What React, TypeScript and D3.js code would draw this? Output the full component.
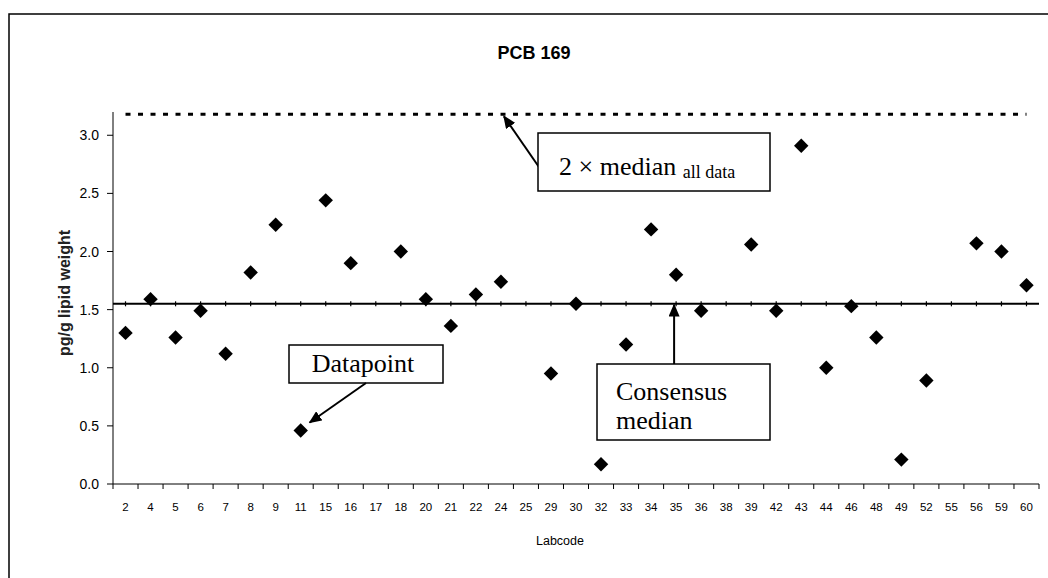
import * as d3 from "d3";

// Lab codes along the x axis (category axis, one slot per lab)
const labcodes = [
  "2", "4", "5", "6", "7", "8", "9", "11", "15", "16", "17", "18", "20", "21",
  "22", "24", "25", "29", "30", "32", "33", "34", "35", "36", "38", "39", "42",
  "43", "44", "46", "48", "49", "52", "55", "56", "59", "60",
];

// Reported PCB 169 values (pg/g lipid weight); null = no value reported
const values: (number | null)[] = [
  1.30, 1.59, 1.26, 1.49, 1.12, 1.82, 2.23, 0.46, 2.44, 1.90, null, 2.00, 1.59, 1.36,
  1.63, 1.74, null, 0.95, 1.55, 0.17, 1.20, 2.19, 1.80, 1.49, null, 2.06, 1.49,
  2.91, 1.00, 1.53, 1.26, 0.21, 0.89, null, 2.07, 2.00, 1.71,
];

const consensusMedian = 1.55;
const twiceMedianAll = 3.18;
const yTicks = [0, 0.5, 1, 1.5, 2, 2.5, 3];

const W = 1048;
const H = 578;
const plot = { left: 113, right: 1039, top: 112, bottom: 484 };

const sans = "'Liberation Sans', Arial, sans-serif";
const serif = "'Liberation Serif', 'Times New Roman', serif";

export default function App() {
  const x = d3
    .scaleBand<string>()
    .domain(labcodes)
    .range([plot.left, plot.right])
    .paddingInner(0)
    .paddingOuter(0);
  const cx = (c: string) => (x(c) ?? 0) + x.bandwidth() / 2;

  const y = d3.scaleLinear().domain([0, 3.2]).range([plot.bottom, plot.top]);

  const diamond = d3.symbol().type(d3.symbolSquare).size(104)();

  const points = labcodes
    .map((c, i) => ({ c, v: values[i] }))
    .filter((d) => d.v !== null) as { c: string; v: number }[];

  const firstX = cx(labcodes[0]);
  const lastX = cx(labcodes[labcodes.length - 1]);

  // annotation anchors (tips derived from the scales)
  const tipLimit = { x: cx("24") + 3, y: y(twiceMedianAll) + 2 };
  const tipPoint = { x: cx("11") + 9, y: y(0.46) - 8 };
  const tipMedian = { x: cx("35") - 2, y: y(consensusMedian) + 1 };

  return (
    <svg
      width={W}
      height={H}
      style={{ position: "absolute", left: 0, top: 0, background: "#fff" }}
    >
      <defs>
        <marker
          id="arrow"
          viewBox="0 0 10 10"
          refX="9"
          refY="5"
          markerWidth="13"
          markerHeight="11"
          markerUnits="userSpaceOnUse"
          orient="auto"
          preserveAspectRatio="none"
        >
          <path d="M0,0 L10,5 L0,10 z" fill="#000" />
        </marker>
      </defs>
      <rect width={W} height={H} fill="#fff" />
      {/* outer chart frame */}
      <rect x={9} y={14} width={1100} height={600} fill="none" stroke="#000" strokeWidth={1.5} />

      {/* title */}
      <text
        x={534}
        y={59}
        textAnchor="middle"
        fontFamily={sans}
        fontWeight="bold"
        fontSize={18}
      >
        PCB 169
      </text>

      {/* y axis */}
      <line x1={plot.left} x2={plot.left} y1={plot.top} y2={plot.bottom} stroke="#000" strokeWidth={1} />
      {yTicks.map((t) => (
        <g key={t}>
          <line x1={plot.left - 6} x2={plot.left} y1={y(t)} y2={y(t)} stroke="#000" />
          <text
            x={plot.left - 14}
            y={y(t)}
            dy="0.36em"
            textAnchor="end"
            fontFamily={sans}
            fontSize={14}
          >
            {t.toFixed(1)}
          </text>
        </g>
      ))}
      <text
        transform={`translate(64,${(plot.top + plot.bottom) / 2 - 5}) rotate(-90)`}
        textAnchor="middle"
        dy="0.35em"
        fontFamily={sans}
        fontWeight="bold"
        fontSize={16}
        fill="#222"
      >
        pg/g lipid weight
      </text>

      {/* x axis */}
      <line x1={plot.left} x2={plot.right} y1={plot.bottom} y2={plot.bottom} stroke="#000" strokeWidth={1} />
      {[...labcodes.map((c) => x(c) ?? 0), plot.right].map((p, i) => (
        <line key={i} x1={p} x2={p} y1={plot.bottom} y2={plot.bottom + 5} stroke="#000" />
      ))}
      {labcodes.map((c) => (
        <text
          key={c}
          x={cx(c)}
          y={511}
          textAnchor="middle"
          fontFamily={sans}
          fontSize={11.5}
        >
          {c}
        </text>
      ))}
      <text x={560} y={545} textAnchor="middle" fontFamily={sans} fontSize={12.5}>
        Labcode
      </text>

      {/* 2 x median (all data) dotted line */}
      <line
        x1={firstX}
        x2={lastX}
        y1={y(twiceMedianAll)}
        y2={y(twiceMedianAll)}
        stroke="#000"
        strokeWidth={3}
        strokeDasharray="5,7.5"
      />

      {/* consensus median line with small markers at each lab */}
      <line
        x1={plot.left}
        x2={plot.right}
        y1={y(consensusMedian)}
        y2={y(consensusMedian)}
        stroke="#000"
        strokeWidth={2}
      />
      {labcodes.map((c) => (
        <line
          key={c}
          x1={cx(c)}
          x2={cx(c)}
          y1={y(consensusMedian) - 2.5}
          y2={y(consensusMedian) + 2.5}
          stroke="#000"
          strokeWidth={1.2}
        />
      ))}

      {/* data points */}
      {points.map((d) => (
        <path
          key={d.c}
          d={diamond ?? ""}
          transform={`translate(${cx(d.c)},${y(d.v)}) rotate(45)`}
          fill="#000"
        />
      ))}

      {/* annotation: 2 x median all data */}
      <line x1={541} y1={170} x2={tipLimit.x} y2={tipLimit.y} stroke="#000" strokeWidth={2} markerEnd="url(#arrow)" />
      <rect x={538} y={133} width={232} height={58} fill="#fff" stroke="#000" strokeWidth={1.5} />
      <text x={559} y={175} fontFamily={serif} fontSize={26}>
        2 × median{" "}
        <tspan fontSize={18} dy={3}>
          all data
        </tspan>
      </text>

      {/* annotation: Datapoint */}
      <rect x={289} y={345} width={154} height={38} fill="#fff" stroke="#000" strokeWidth={1.5} />
      <text x={363} y={363} dy="0.35em" textAnchor="middle" fontFamily={serif} fontSize={26}>
        Datapoint
      </text>
      <line x1={366} y1={383} x2={tipPoint.x} y2={tipPoint.y} stroke="#000" strokeWidth={2} markerEnd="url(#arrow)" />

      {/* annotation: Consensus median */}
      <rect x={597} y={364} width={173} height={76} fill="#fff" stroke="#000" strokeWidth={1.5} />
      <text fontFamily={serif} fontSize={26}>
        <tspan x={616} y={400}>Consensus</tspan>
        <tspan x={616} y={429}>median</tspan>
      </text>
      <line x1={tipMedian.x} y1={364} x2={tipMedian.x} y2={tipMedian.y} stroke="#000" strokeWidth={2} markerEnd="url(#arrow)" />
    </svg>
  );
}
